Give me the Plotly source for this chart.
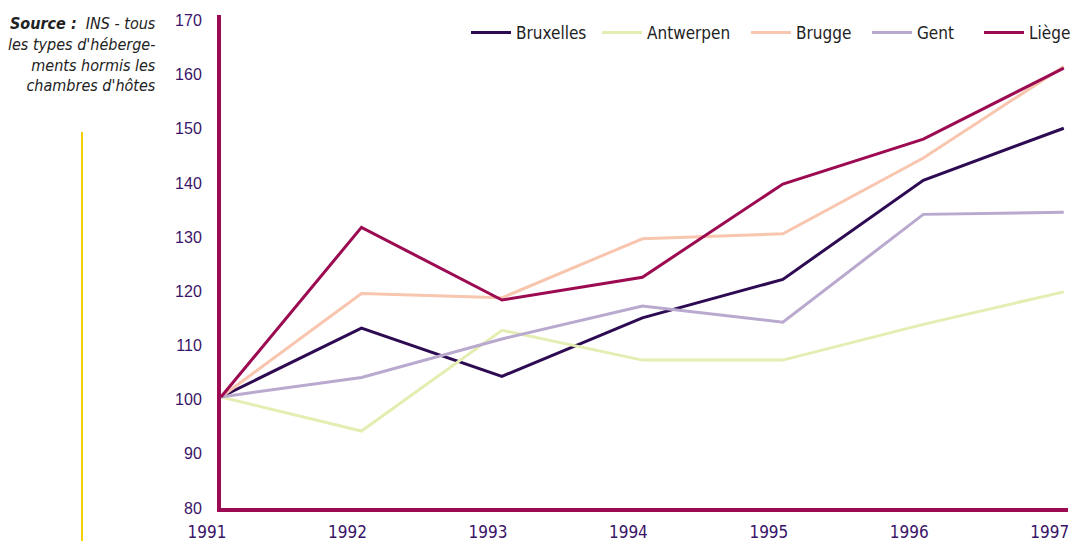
import plotly.graph_objects as go

years = [1991, 1992, 1993, 1994, 1995, 1996, 1997]
bruxelles = [100.5, 113.2, 104.3, 115.1, 122.2, 140.5, 150.1]
antwerpen = [100.5, 94.2, 112.8, 107.3, 107.3, 113.9, 119.9]
brugge = [100.5, 119.6, 118.8, 129.7, 130.6, 144.6, 161.5]
gent = [100.5, 104.1, 111.2, 117.3, 114.3, 134.2, 134.6]
liege = [100.5, 131.8, 118.4, 122.6, 139.8, 148.1, 161.2]

series = [
    ("Bruxelles", bruxelles, "#2d0a52"),
    ("Antwerpen", antwerpen, "#e6edb2"),
    ("Brugge", brugge, "#f8c6ae"),
    ("Gent", gent, "#b9a9cf"),
    ("Liège", liege, "#9c0a52"),
]

W, H = 1074, 542
L, R, T, B = 221, 6, 15, 34
PW, PH = W - L - R, H - T - B

def px_x(p):
    return (p - L) / PW

def px_y(p):
    return (H - B - p) / PH

legend_left = [466, 597, 746, 867, 979]

narrow = "DejaVu Sans Condensed, Liberation Sans, Arial"
fig = go.Figure()
layout_legends = {}
for i, (name, vals, col) in enumerate(series):
    key = "legend" if i == 0 else f"legend{i+1}"
    fig.add_trace(go.Scatter(x=years, y=vals, name=name, mode="lines",
                             line=dict(color=col, width=3), legend=key))
    layout_legends[key] = dict(x=px_x(legend_left[i]), xanchor="left", y=px_y(33), yanchor="middle",
                               font=dict(family=narrow, size=17, color="#222"),
                               bgcolor="rgba(0,0,0,0)", itemwidth=40)

axis_col = "#9c0a52"
tick_col = "#3a1468"
fig.update_layout(
    width=W, height=H,
    margin=dict(l=L, r=R, t=T, b=B, autoexpand=False),
    paper_bgcolor="white", plot_bgcolor="white",
    font=dict(family=narrow, size=15, color="#222"),
    showlegend=True,
    xaxis=dict(range=[1991, 1997.03], tickvals=years, ticktext=[str(y) for y in years],
               automargin=False, ticklabeloverflow="allow", ticklabelshift=-14,
               showgrid=False, zeroline=False, showline=True, linecolor=axis_col, linewidth=4,
               ticks="outside", ticklen=6, tickcolor="rgba(0,0,0,0)",
               tickfont=dict(family=narrow, size=17, color=tick_col)),
    yaxis=dict(range=[80, 171], tickvals=[80, 90, 100, 110, 120, 130, 140, 150, 160, 170],
               automargin=False,
               showgrid=False, zeroline=False, showline=True, linecolor=axis_col, linewidth=4,
               ticks="outside", ticklen=12, tickcolor="rgba(0,0,0,0)",
               tickfont=dict(family="Liberation Sans, Arial", size=16, color=tick_col)),
    **layout_legends,
)

fig.add_annotation(
    xref="paper", yref="paper", x=px_x(158), y=px_y(12), xanchor="right", yanchor="top",
    align="right", showarrow=False,
    text="<b><i>Source :</i></b><i>  INS - tous<br>les types d'héberge-<br>ments hormis les<br>chambres d'hôtes</i>",
    font=dict(family=narrow, size=16, color="#222"),
)
fig.add_shape(type="line", xref="paper", yref="paper", x0=px_x(82), x1=px_x(82),
              y0=px_y(132), y1=px_y(541), line=dict(color="#f5d000", width=2))

fig.write_html("out.html", config={"displayModeBar": False},
               post_script="document.body.style.margin='0';document.body.style.padding='0';document.body.style.overflow='hidden';")
